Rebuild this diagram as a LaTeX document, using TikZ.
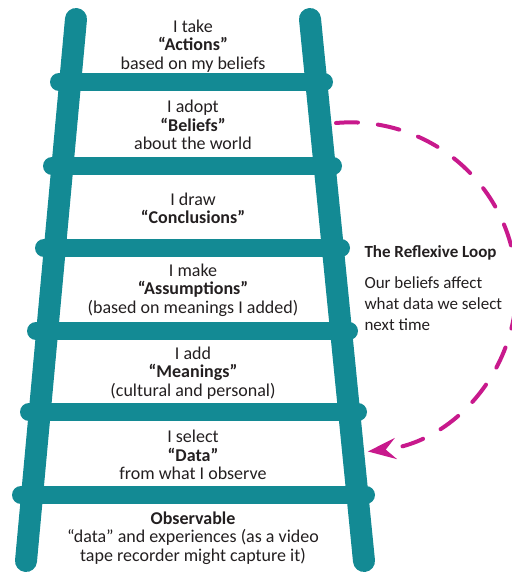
\documentclass[tikz,border=0pt]{standalone}
\usepackage{fontspec}
\setmainfont{Carlito}
\usetikzlibrary{arrows.meta,positioning}
\definecolor{ladderteal}{RGB}{19,138,148}
\definecolor{loopmagenta}{RGB}{200,25,140}
\definecolor{inkgray}{RGB}{35,31,32}
\tikzset{loopto/.style = {-{Stealth[length=28pt,width=21pt,inset=10pt]}}}
\tikzset{rail/.style = {draw=ladderteal, line width=22pt, line cap=round},
         rung/.style = {draw=ladderteal, line width=18pt, line cap=round},
         steptext/.style = {align=center, text=inkgray, font=\fontsize{18}{18.5}\selectfont},
         looptext/.style = {align=left, text=inkgray, font=\fontsize{17}{21}\selectfont}}

\begin{document}
\begin{tikzpicture}[x=1pt, y=-1pt]
  	\useasboundingbox (0,0) rectangle (512,574);
  	% rails
  	\draw[rail] (76,19) -- (26,561);
  	\draw[rail] (310,19) -- (364,561);
  	% rungs
  	\draw[rung] (59,82) -- (324,82);
  	\draw[rung] (52,166) -- (333,166);
  	\draw[rung] (44,248) -- (341,248);
  	\draw[rung] (36,331) -- (349,331);
  	\draw[rung] (29,412) -- (358,412);
  	\draw[rung] (21,495) -- (366,495);
    % steps
    \node (actions) [steptext] at (193,46) {I take\\\textbf{“Actions”}\\based on my beliefs};
    \node (beliefs) [steptext] at (193,125) {I adopt\\\textbf{“Beliefs”}\\about the world};
    \node (conclusions) [steptext] at (193,208.5) {I draw\\\textbf{“Conclusions”}};
    \node (assumptions) [steptext] at (193,290) {I make\\\textbf{“Assumptions”}\\(based on meanings I added)};
    \node (meanings) [steptext] at (193,373) {I add\\\textbf{“Meanings”}\\(cultural and personal)};
    \node (data) [steptext] at (193,455) {I select\\\textbf{“Data”}\\from what I observe};
    \node (observable) [steptext] at (193,538) {\textbf{Observable}\\“data” and experiences (as a video\\tape recorder might capture it)};
    % reflexive loop
    \node (looptitle) [looptext, anchor=west, font=\fontsize{17}{21}\selectfont\bfseries] at (361,253) {The Reflexive Loop};
    \node (loopbody) [looptext, below=9pt of looptitle.south west, anchor=north west] {Our beliefs affect\\what data we select\\next time};
    \coordinate (loopstart) at (336,123);
    \draw[loopmagenta, line width=4pt, line cap=round, dash pattern=on 22pt off 20pt, loopto]
      (loopstart) arc[start angle=-95, end angle=84, x radius=166, y radius=165];
  \end{tikzpicture}
\end{document}
